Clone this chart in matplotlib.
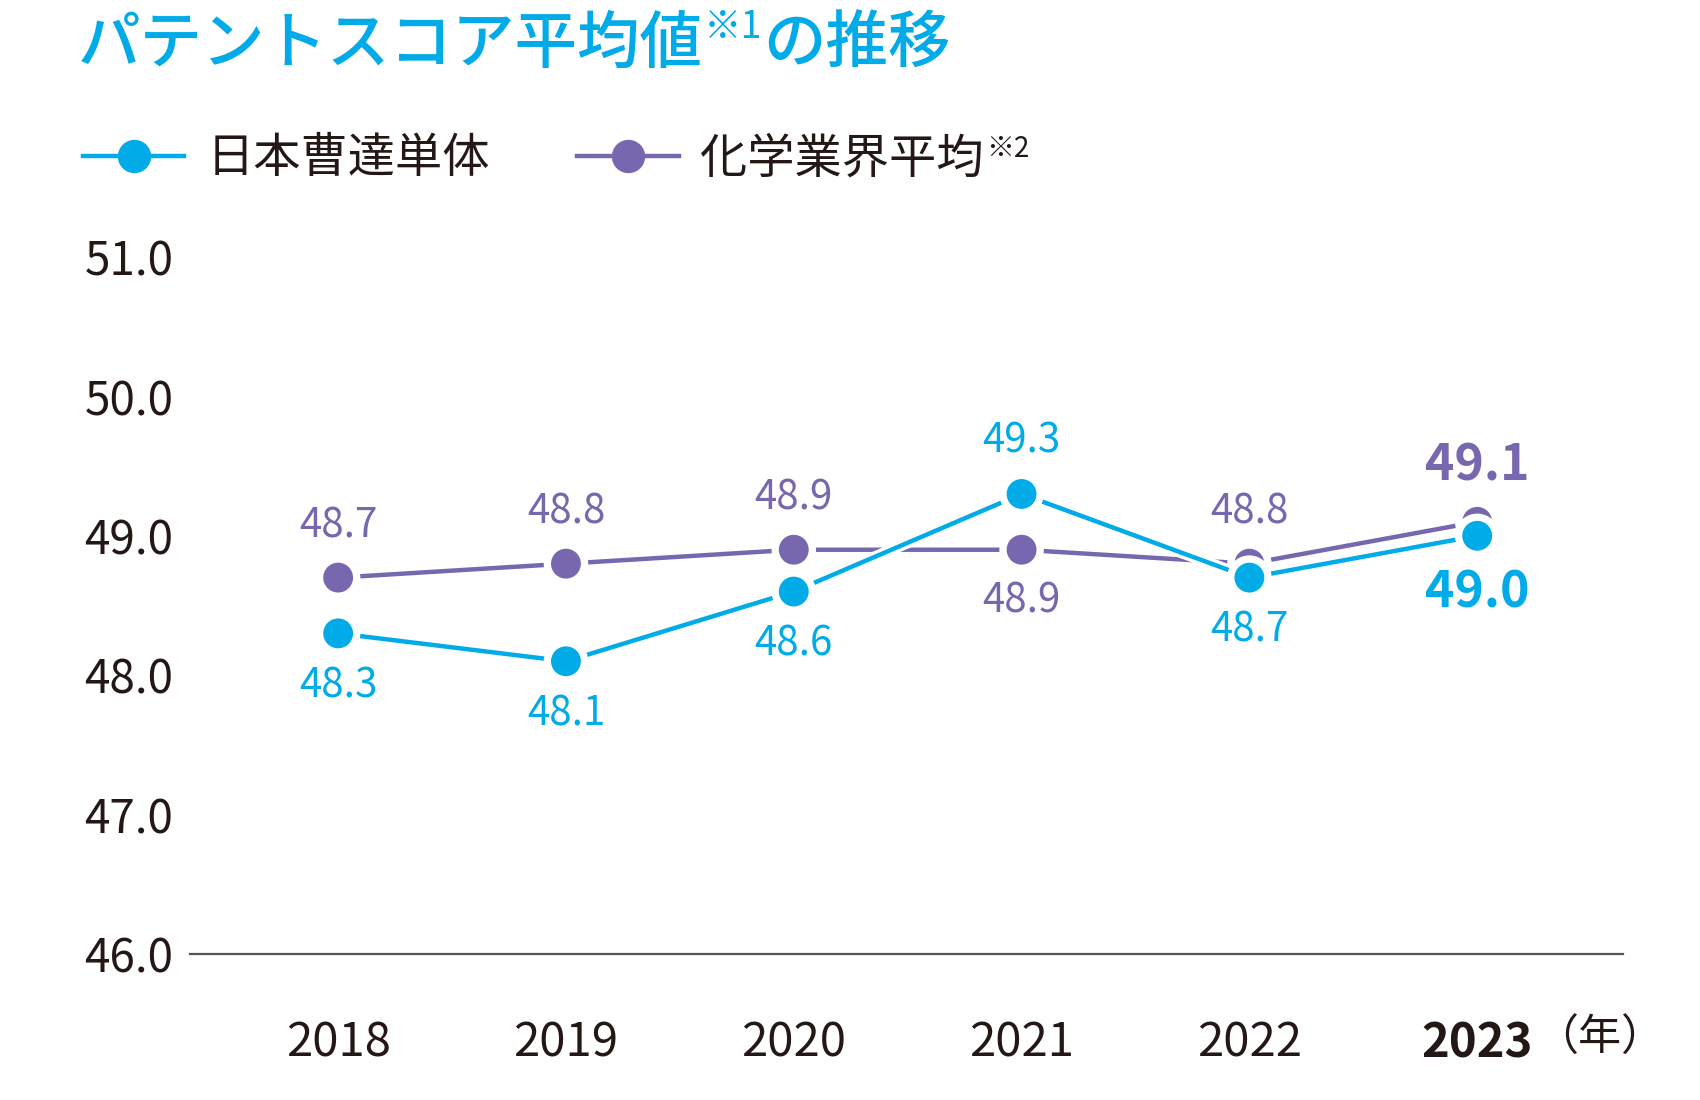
import matplotlib
matplotlib.use('Agg')
import matplotlib.pyplot as plt
import matplotlib.patheffects as pe

plt.rcParams['font.family'] = ['Noto Sans CJK JP', 'DejaVu Sans']

# data
years = [2018, 2019, 2020, 2021, 2022, 2023]
nippon_soda = [48.3, 48.1, 48.6, 49.3, 48.7, 49.0]
chem_avg = [48.7, 48.8, 48.9, 48.9, 48.8, 49.1]
# label above (+1) or below (-1) the point
soda_side = [-1, -1, -1, 1, -1, -1]
chem_side = [1, 1, 1, -1, 1, 1]
yticks = [46.0, 47.0, 48.0, 49.0, 50.0, 51.0]

blue = '#00ABE8'
purple = '#7767AE'
ink = '#231815'

fig = plt.figure(figsize=(17, 11), dpi=100)
ax = fig.add_axes([0.1118, 0.1327, 0.8429, 0.6337])

outline = [pe.Stroke(linewidth=8, foreground='white'), pe.Normal()]

l2, = ax.plot(years, chem_avg, color=purple, lw=3.2, marker='o', ms=24,
              mec='white', mew=2.5, path_effects=outline, zorder=3)
l1, = ax.plot(years, nippon_soda, color=blue, lw=3.2, marker='o', ms=24,
              mec='white', mew=2.5, path_effects=outline, zorder=4)

# data labels
for i, (x, v) in enumerate(zip(years, nippon_soda)):
    last = i == len(years) - 1
    ax.annotate(f'{v:.1f}', (x, v), xytext=(0, (38 + (3 if last else 0)) * soda_side[i]),
                textcoords='offset points', ha='center', va='center',
                color=blue, fontsize=36 if last else 29,
                fontweight='bold' if last else 'normal')
for i, (x, v) in enumerate(zip(years, chem_avg)):
    last = i == len(years) - 1
    ax.annotate(f'{v:.1f}', (x, v), xytext=(0, 37 * chem_side[i] + (3 if last else 0)),
                textcoords='offset points', ha='center', va='center',
                color=purple, fontsize=36 if last else 29,
                fontweight='bold' if last else 'normal')

ax.set_ylim(46, 51)
ax.set_xlim(2017.35, 2023.64)
ax.set_yticks(yticks)
ax.set_yticklabels([f'{t:.1f}' for t in yticks], fontsize=33, color=ink)
ax.set_xticks(years)
ax.set_xticklabels([str(y) for y in years], fontsize=34, color=ink)
ax.get_xticklabels()[-1].set_fontweight('bold')
ax.tick_params(axis='y', length=0, pad=12)
ax.tick_params(axis='x', length=0, pad=47)
for s in ['top', 'right', 'left']:
    ax.spines[s].set_visible(False)
ax.spines['bottom'].set_color('#555555')
ax.spines['bottom'].set_linewidth(1.6)

# legend
leg = fig.legend([l1, l2], ['日本曹達単体', '化学業界平均'], loc='center left',
                 bbox_to_anchor=(0.0488, 0.8555), ncol=2, frameon=False,
                 fontsize=34, handlelength=2.15, handletextpad=0.46,
                 columnspacing=1.85, borderpad=0, borderaxespad=0,
                 labelcolor=ink)
for h in leg.legend_handles:
    h.set_path_effects([])
    h.set_markeredgewidth(0)

fig.canvas.draw()
r = fig.canvas.get_renderer()

# unit after the last year label
yb = ax.get_xticklabels()[-1].get_window_extent(r)
fig.text((yb.x1 + 2) / 1700, 0.0555, '（年）', fontsize=31, color=ink,
         ha='left', va='center')

# title with superscript note mark
t1 = fig.text(0.0455, 0.959, 'パテントスコア平均値', fontsize=45, color=blue,
              fontweight='medium', ha='left', va='center')
bb = t1.get_window_extent(r)
t2 = fig.text((bb.x1 + 1) / 1700, 0.975, '※1', fontsize=27, color=blue,
              ha='left', va='center')
bb2 = t2.get_window_extent(r)
fig.text((bb2.x1 + 1) / 1700, 0.959, 'の推移', fontsize=45, color=blue,
         fontweight='medium', ha='left', va='center')

# note mark after the second legend entry
lt = leg.get_texts()[1].get_window_extent(r)
fig.text((lt.x1 + 2) / 1700, (lt.y1 - 14) / 1100, '※2', fontsize=20,
         color=ink, ha='left', va='center')

fig.savefig('out.png', dpi=100, facecolor='white')
